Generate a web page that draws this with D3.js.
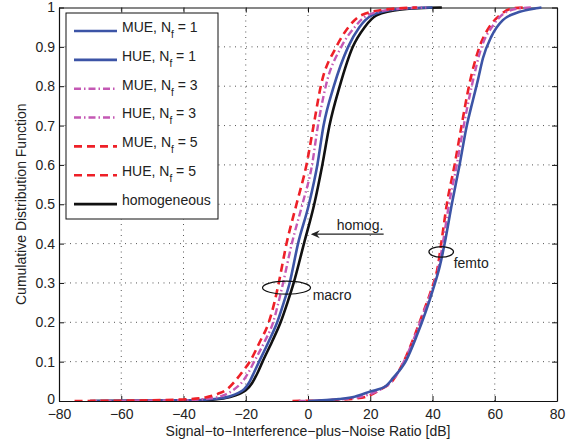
<!DOCTYPE html>
<html>
<head>
<meta charset="utf-8">
<script src="https://cdn.jsdelivr.net/npm/d3@7"></script>
<style>
  body { margin: 0; background: #fff; }
  text { font-family: "Liberation Sans", Arial, Helvetica, sans-serif; fill: #222; }
</style>
</head>
<body>
<svg id="chart" width="575" height="444"></svg>
<script>
// tick values
var xTicks = [-80, -60, -40, -20, 0, 20, 40, 60, 80];
var yTicks = [0, 0.1, 0.2, 0.3, 0.4, 0.5, 0.6, 0.7, 0.8, 0.9, 1];

// macro cell users (SINR dB, CDF)
var homogeneous = [[-70,0],[-40,0.001],[-30,0.004],[-25,0.01],[-22,0.018],[-20,0.027],[-18,0.045],[-16.3,0.07],[-14.6,0.1],[-11.6,0.15],[-8.8,0.2],[-6.6,0.25],[-4.6,0.3],[-1.3,0.4],[2,0.5],[4.6,0.6],[6.9,0.7],[10.2,0.8],[14.4,0.9],[18.2,0.95],[22,0.98],[30,0.995],[43,1]];
var mue1 = [[-68,0],[-40,0.0015],[-30,0.005],[-25,0.012],[-22.5,0.02],[-20.5,0.03],[-18.7,0.05],[-17.2,0.075],[-15.7,0.1],[-12.7,0.15],[-9.9,0.2],[-7.8,0.25],[-5.9,0.3],[-3.2,0.4],[0.3,0.5],[3,0.6],[5,0.7],[8.3,0.8],[12.9,0.9],[16.5,0.95],[20.5,0.98],[28,0.995],[40,1]];
var mue3 = [[-70,0],[-40,0.002],[-32,0.006],[-27,0.015],[-24,0.028],[-21.5,0.045],[-19.3,0.07],[-17.3,0.1],[-14,0.15],[-11.2,0.2],[-9.5,0.25],[-8,0.3],[-5.2,0.4],[-1.8,0.5],[1.3,0.6],[3.2,0.7],[5.7,0.8],[10.7,0.9],[15,0.95],[19,0.98],[27,0.995],[38,1]];
var mue5 = [[-75,0],[-50,0.002],[-40,0.004],[-33,0.009],[-29,0.018],[-26,0.03],[-23.5,0.05],[-21,0.075],[-18.7,0.1],[-15.5,0.15],[-12.6,0.2],[-10.8,0.25],[-9.4,0.3],[-6.9,0.4],[-3.7,0.5],[-0.5,0.6],[1.8,0.7],[4.1,0.8],[9.1,0.9],[13,0.95],[17,0.98],[25,0.995],[35,1]];

// femto cell users
var hue1 = [[0,0],[10,0.005],[15,0.011],[20,0.024],[25,0.038],[27.3,0.058],[31.6,0.104],[34.8,0.163],[38,0.231],[40.1,0.282],[42.3,0.341],[43.9,0.4],[46.2,0.5],[48.7,0.6],[50.9,0.695],[53,0.765],[54.6,0.816],[56.2,0.871],[58.9,0.926],[62.6,0.968],[68,0.989],[73.3,0.998],[75,1]];
var hue3 = [[-3,0],[10,0.004],[15,0.008],[19,0.015],[23.5,0.03],[27.5,0.055],[30.8,0.1],[34,0.158],[37.2,0.226],[39.8,0.282],[42,0.341],[43.3,0.4],[45.3,0.5],[47.8,0.6],[49.8,0.69],[52.6,0.8],[55.8,0.9],[59.5,0.955],[63,0.985],[68,0.998],[72,1]];
var hue5 = [[-5,0],[10,0.003],[15,0.006],[18.7,0.011],[23,0.028],[27.3,0.053],[30.5,0.096],[33.7,0.155],[36.9,0.223],[39.6,0.282],[41.7,0.341],[42.8,0.4],[44.6,0.5],[47.1,0.6],[48.9,0.68],[51.9,0.807],[55.1,0.9],[58.3,0.951],[61.6,0.98],[65.8,0.998],[70,1]];

// legend rows
var legendLabels = ["MUE", "HUE", "MUE", "HUE", "MUE", "HUE", "homogeneous"];
var legendNf = [1, 1, 3, 3, 5, 5, null];

var width = 575, height = 444;
var margin = {left: 59, right: 18, top: 7.5, bottom: 43};

var svg = d3.select("#chart");

var x = d3.scaleLinear().domain([-80, 80]).range([margin.left, width - margin.right]);
var y = d3.scaleLinear().domain([0, 1]).range([height - margin.bottom, margin.top]);

var blue = "#3c54a6", magenta = "#c458b4", red = "#ee2028";

var styles = {
  black:   {color: "#111", dash: null, w: 2.6},
  blue:    {color: blue, dash: null, w: 2.6},
  magenta: {color: magenta, dash: "7,3,1.5,3", w: 2.4},
  red:     {color: red, dash: "8,5", w: 2.6}
};

// grid
svg.append("g").selectAll("line").data(xTicks.slice(1, -1)).enter().append("line")
  .attr("x1", d => x(d)).attr("x2", d => x(d))
  .attr("y1", y(0)).attr("y2", y(1))
  .attr("stroke", "#555").attr("stroke-width", 1).attr("stroke-dasharray", "1,4.5");
svg.append("g").selectAll("line").data(yTicks.slice(1, -1)).enter().append("line")
  .attr("y1", d => y(d)).attr("y2", d => y(d))
  .attr("x1", x(-80)).attr("x2", x(80))
  .attr("stroke", "#555").attr("stroke-width", 1).attr("stroke-dasharray", "1,4.5");

// axes with inward ticks
var xAxis = d3.axisBottom(x).tickValues(xTicks).tickSizeInner(-5).tickSizeOuter(0).tickPadding(8)
  .tickFormat(d => d < 0 ? "\u2212" + Math.abs(d) : d);
var yAxis = d3.axisLeft(y).tickValues(yTicks).tickSizeInner(-5).tickSizeOuter(0).tickPadding(4)
  .tickFormat(d => d === 0 || d === 1 ? d : d3.format(".1f")(d));

var gx = svg.append("g").attr("transform", `translate(0,${y(0)})`).call(xAxis);
var gy = svg.append("g").attr("transform", `translate(${x(-80)},0)`).call(yAxis);
svg.append("g").attr("transform", `translate(0,${y(1)})`)
  .call(d3.axisTop(x).tickValues(xTicks).tickSizeInner(-5).tickSizeOuter(0).tickFormat(""));
svg.append("g").attr("transform", `translate(${x(80)},0)`)
  .call(d3.axisRight(y).tickValues(yTicks).tickSizeInner(-5).tickSizeOuter(0).tickFormat(""));

svg.selectAll(".domain").attr("stroke", "#111").attr("stroke-width", 1.2);
svg.selectAll(".tick line").attr("stroke", "#111");
gx.selectAll("text").attr("font-size", 14).attr("fill", "#222");
gy.selectAll("text").attr("font-size", 14).attr("fill", "#222");
// lift the lowest y label a little so it clears the x labels
gy.selectAll("text").filter(d => d === 0).attr("dy", "0.18em");

// axis labels
svg.append("text").attr("x", (x(-80) + x(80)) / 2).attr("y", 436)
  .attr("text-anchor", "middle").attr("font-size", 14)
  .text("Signal\u2212to\u2212Interference\u2212plus\u2212Noise Ratio [dB]");
svg.append("text").attr("transform", `translate(26,${(y(0) + y(1)) / 2}) rotate(-90)`)
  .attr("text-anchor", "middle").attr("font-size", 14)
  .text("Cumulative Distribution Function");

// curves
svg.append("clipPath").attr("id", "clip").append("rect")
  .attr("x", x(-80)).attr("y", y(1) - 2).attr("width", x(80) - x(-80)).attr("height", y(0) - y(1) + 2);

var line = d3.line().x(d => x(d[0])).y(d => y(d[1])).curve(d3.curveMonotoneX);

var series = [
  {data: homogeneous, s: styles.black},
  {data: mue1, s: styles.blue},
  {data: mue3, s: styles.magenta},
  {data: mue5, s: styles.red},
  {data: hue5, s: styles.red},
  {data: hue3, s: styles.magenta},
  {data: hue1, s: styles.blue}
];

var curves = svg.append("g").attr("clip-path", "url(#clip)");
series.forEach(function(d) {
  curves.append("path")
    .attr("d", line(d.data))
    .attr("fill", "none")
    .attr("stroke", d.s.color)
    .attr("stroke-width", d.s.w)
    .attr("stroke-dasharray", d.s.dash);
});

// annotations
svg.append("ellipse").attr("cx", x(-6.9)).attr("cy", y(0.288)).attr("rx", 24).attr("ry", 6.5)
  .attr("fill", "none").attr("stroke", "#111").attr("stroke-width", 1.2);
svg.append("ellipse").attr("cx", x(42.8)).attr("cy", y(0.379)).attr("rx", 12.3).attr("ry", 5.3)
  .attr("fill", "none").attr("stroke", "#111").attr("stroke-width", 1.2);
svg.append("text").attr("x", x(1.5)).attr("y", y(0.257)).attr("font-size", 14).text("macro");
svg.append("text").attr("x", x(46.8)).attr("y", y(0.338)).attr("font-size", 14).text("femto");
svg.append("text").attr("x", x(9.2)).attr("y", y(0.4346)).attr("font-size", 14).text("homog.");

svg.append("line").attr("x1", x(24.3)).attr("x2", x(1.5)).attr("y1", y(0.424)).attr("y2", y(0.424))
  .attr("stroke", "#222").attr("stroke-width", 1.1);
var ax = x(0.9), ay = y(0.424);
svg.append("path")
  .attr("d", `M${ax},${ay} L${ax + 9},${ay - 4} L${ax + 6},${ay} L${ax + 9},${ay + 4} Z`)
  .attr("fill", "#222");

// legend
var lg = svg.append("g");
lg.append("rect").attr("x", 66).attr("y", 13).attr("width", 152).attr("height", 206)
  .attr("fill", "#fff").attr("stroke", "#111").attr("stroke-width", 1);

var legendStyles = [styles.blue, styles.blue, styles.magenta, styles.magenta, styles.red, styles.red, styles.black];

legendLabels.forEach(function(lbl, i) {
  var ly = 31 + i * 28.85;
  var st = legendStyles[i];
  lg.append("line").attr("x1", 74).attr("x2", 117).attr("y1", ly).attr("y2", ly)
    .attr("stroke", st.color).attr("stroke-width", st.w).attr("stroke-dasharray", st.dash);
  var t = lg.append("text").attr("x", 122).attr("y", ly + 0.8).attr("font-size", 14);
  if (legendNf[i] === null) {
    t.text(lbl);
  } else {
    t.append("tspan").text(lbl + ", N");
    t.append("tspan").attr("dy", 6).attr("font-size", 10).text("f");
    t.append("tspan").attr("dy", -6).text(" = " + legendNf[i]);
  }
});
</script>
</body>
</html>
